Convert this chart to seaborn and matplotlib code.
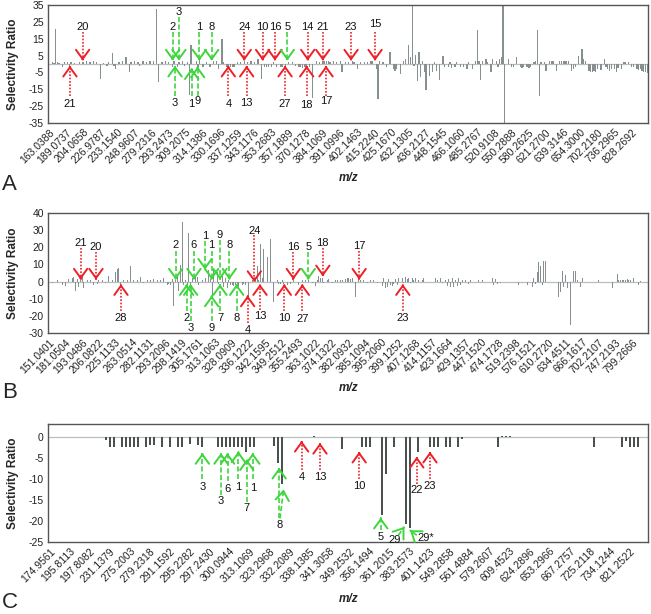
import numpy as np
import pandas as pd
import matplotlib
matplotlib.use('Agg')
import matplotlib.pyplot as plt
import seaborn as sns

sns.set_theme(style='white')
plt.rcParams['font.family'] = ['Liberation Sans', 'DejaVu Sans']

RED = '#ee2026'
GREEN = '#3dd63d'
BAR_AB = '#869090'
BAR_C = '#4b5151'

# ---- panel A ----
a_n = 350
a_labels = ['163.0388', '189.0737', '204.0658', '226.9787', '233.1540', '248.9607',
            '279.2316', '293.2473', '309.2075', '314.1386', '330.1696', '337.1259',
            '343.1176', '353.2683', '357.1889', '370.1278', '384.1069', '391.0996',
            '402.1463', '415.2240', '425.1670', '432.1305', '436.2127', '448.1545',
            '466.1060', '485.2767', '520.9108', '550.2888', '580.2625', '621.2700',
            '639.3146', '654.3000', '702.2180', '736.2965', '828.2692']
a_peaks = {0: -1.5, 2: 1.0, 3: 0.8, 4: 21.0, 5: 1.0, 6: 0.8, 8: -2.0, 9: 1.0, 11: 1.0,
           12: -1.5, 13: 1.0, 15: 0.8, 18: 1.0, 20: 1.2, 22: 1.5, 24: 1.0, 26: 1.8,
           28: 1.2, 30: -8.8, 32: 0.8, 34: -1.2, 35: 1.0, 37: 6.6, 38: -1.0, 39: -3.0,
           41: 1.0, 43: 1.5, 45: 4.0, 47: -4.9, 48: 1.0, 50: 2.0, 52: 1.0, 53: -1.0,
           55: 1.5, 57: 1.2, 59: 2.0, 61: 1.5, 63: 32.7, 64: -10.8, 66: 1.0, 68: 1.5,
           70: 1.0, 72: -1.5, 73: 1.5, 75: -2.0, 76: 1.0, 78: 2.0, 79: -1.0, 81: 1.0,
           82: -18.5, 83: 11.5, 86: 1.5, 87: -1.5, 88: 2.5, 90: -2.0, 92: 1.0, 94: -1.5,
           96: 2.0, 98: 1.5, 99: -3.0, 101: 15.0, 102: 1.0, 104: -1.5, 105: -1.5,
           106: -1.5, 107: -1.5, 108: -1.5, 110: 1.0, 112: 1.0, 114: 1.5, 116: 1.0,
           118: 1.5, 120: 1.0, 122: 3.2, 124: -8.8, 126: -1.5, 127: -1.8, 128: -1.5,
           130: -2.0, 131: 1.0, 133: -1.5, 135: -2.0, 136: -1.5, 138: -1.5, 140: 1.0,
           142: 1.0, 144: -1.0, 146: -2.0, 147: -2.0, 148: -2.5, 149: -2.0, 150: -2.0,
           152: -1.5, 154: -20.0, 156: 2.0, 158: 1.0, 160: 1.5, 161: 1.5, 162: 1.8,
           163: 1.5, 164: 1.0, 166: 1.5, 168: 1.0, 170: 2.0, 171: -5.0, 173: 1.0,
           175: 1.0, 177: 1.5, 178: 1.0, 180: -3.0, 182: 1.0, 184: 1.0, 186: 1.0,
           188: 2.0, 189: 1.5, 191: -3.0, 192: -21.0, 193: 2.0, 195: 1.0, 197: -1.5,
           199: 7.0, 201: -3.0, 202: -4.0, 203: -3.0, 205: -6.2, 207: 1.5, 208: 3.0,
           210: 11.0, 211: 4.0, 212: 40.0, 213: -1.0, 214: 5.3, 215: -9.8, 216: 7.0,
           217: -8.0, 218: 2.0, 219: -5.0, 220: -15.3, 222: -6.9, 224: -5.0, 225: 1.0,
           226: -4.0, 228: -9.4, 230: 4.8, 231: -2.0, 233: -2.0, 234: 1.0, 235: -2.5,
           237: -2.0, 238: 1.0, 240: -1.5, 242: -2.0, 244: -3.0, 245: 1.0, 247: -3.0,
           249: 1.5, 250: 19.9, 251: 2.0, 252: -9.4, 253: 2.0, 255: 3.0, 256: 1.0,
           258: -4.9, 259: 3.0, 261: 1.5, 262: -1.5, 263: 3.0, 264: 4.0, 265: 40.0,
           266: -40.0, 268: 3.0, 270: -2.0, 271: -2.0, 273: 4.3, 275: -2.0, 276: -2.5,
           277: -2.0, 279: -2.0, 280: -2.5, 281: -2.0, 283: 1.0, 284: 1.5, 285: 19.9,
           286: -18.7, 287: 1.0, 289: 1.0, 290: -4.0, 292: 1.5, 293: 2.0, 294: 1.5,
           296: -4.0, 298: 2.0, 299: 1.5, 300: 2.0, 301: 2.0, 302: 2.0, 303: 1.5,
           305: -4.0, 306: -3.0, 307: -2.0, 309: 4.8, 311: 9.0, 312: 3.0, 313: 2.0,
           315: -4.0, 316: -4.5, 317: -5.0, 318: -4.0, 319: -4.5, 320: -3.0, 322: -3.5,
           324: 3.0, 325: -2.0, 326: -3.0, 327: -4.0, 328: -3.0, 330: -3.0, 331: -5.0,
           332: -2.5, 334: -3.0, 335: 1.0, 336: 1.0, 338: 1.0, 340: -2.0, 341: -2.0,
           343: -3.0, 344: -3.5, 345: -3.0, 346: -4.0, 347: -4.5, 348: -5.0, 349: -5.5}
# label, x, tail, tip, label y, colour
a_arrows = [('20', 19.7, 19.0, 2.0, 22.0, 'r'), ('2', 72.2, 19.0, 2.0, 22.2, 'g'),
            ('3', 75.9, 28.0, 2.0, 30.7, 'g'), ('1', 87.8, 19.0, 2.0, 22.2, 'g'),
            ('8', 95.0, 19.0, 2.0, 22.2, 'g'), ('24', 114.0, 19.0, 2.0, 22.2, 'r'),
            ('10', 124.7, 19.0, 2.0, 22.2, 'r'), ('16', 131.9, 19.0, 2.0, 22.0, 'r'),
            ('5', 139.1, 19.0, 2.0, 22.2, 'g'), ('14', 151.0, 19.0, 2.0, 22.2, 'r'),
            ('21', 159.8, 19.0, 2.0, 22.2, 'r'), ('23', 176.3, 19.0, 2.0, 22.2, 'r'),
            ('15', 190.3, 19.0, 2.0, 23.5, 'r'),
            ('21', 12.3, -18.7, -1.0, -24.0, 'r'), ('3', 73.6, -18.7, -1.0, -23.2, 'g'),
            ('1', 83.3, -18.7, -2.5, -24.0, 'g'), ('9', 86.8, -18.7, -1.5, -22.0, 'g'),
            ('4', 104.7, -18.7, -1.0, -23.5, 'r'), ('13', 115.4, -18.7, -1.0, -23.2, 'r'),
            ('27', 137.8, -18.7, -1.0, -24.0, 'r'), ('18', 150.4, -18.7, -1.0, -24.5, 'r'),
            ('17', 161.7, -18.7, -1.0, -22.0, 'r')]

# ---- panel B ----
b_n = 360
b_labels = ['151.0401', '181.0504', '193.0486', '206.0822', '225.1133', '263.0514',
            '282.1131', '293.2096', '298.1419', '305.1761', '313.1063', '328.0909',
            '336.1222', '342.1595', '349.2512', '355.2493', '363.1022', '374.1322',
            '382.0932', '385.1094', '395.2060', '399.1252', '407.1268', '414.1157',
            '423.1664', '429.1357', '447.1520', '474.1728', '519.2398', '576.1521',
            '610.2720', '634.4511', '666.1617', '702.2107', '747.2193', '799.2666']
b_peaks = {2: -1.0, 5: 1.0, 8: -2.0, 10: -2.5, 12: 1.5, 14: 2.0, 15: 2.6, 16: -5.6,
           17: 1.5, 18: -3.0, 19: 1.0, 20: 3.9, 21: -3.5, 23: 1.0, 25: 0.8, 27: -2.0,
           29: -1.5, 30: 1.0, 32: 1.0, 34: -1.0, 36: 3.0, 38: 1.0, 40: 5.5, 41: 7.2,
           42: 7.8, 43: -2.0, 45: 1.0, 47: 1.0, 49: 8.8, 51: 0.8, 53: 1.0, 55: 2.5,
           57: -1.0, 59: 1.0, 61: 0.8, 63: 1.5, 65: 1.0, 67: 1.0, 69: 2.0, 71: -2.0,
           72: -1.5, 73: -2.0, 74: 1.5, 75: -14.5, 76: 1.0, 77: 3.0, 78: -5.5, 79: 9.6,
           80: 34.5, 81: -2.0, 82: 1.0, 83: -2.0, 84: 28.3, 85: -4.0, 86: 2.0, 88: 3.5,
           89: 2.9, 90: -2.0, 92: 1.0, 94: 2.0, 96: 7.0, 97: 1.5, 98: -8.3, 99: 6.8,
           101: 5.8, 102: -1.5, 104: 3.0, 105: -3.0, 106: 2.0, 107: -4.0, 108: 1.0,
           109: -2.0, 110: -2.0, 111: -2.5, 112: -2.0, 113: -2.0, 114: -3.0, 116: -2.0,
           117: -1.5, 118: -2.0, 120: -8.0, 122: 1.0, 124: 2.0, 125: 8.8, 126: 1.0,
           127: 21.9, 128: 2.0, 129: 19.2, 131: 14.1, 133: 25.0, 135: -12.0, 137: 1.0,
           138: -1.5, 139: -1.5, 140: 1.0, 141: -1.5, 143: -2.0, 145: -1.5, 147: 1.0,
           150: -2.0, 152: 1.0, 154: 1.0, 156: 0.8, 158: -1.0, 160: -2.5, 161: 1.0,
           162: 3.0, 163: 2.0, 164: 2.0, 165: -1.0, 167: 1.0, 168: 1.5, 170: -1.0,
           172: 1.0, 173: 1.0, 175: 1.0, 176: 0.8, 178: 1.5, 179: 2.0, 180: 2.0,
           181: 1.5, 182: 2.0, 184: -9.2, 186: 2.0, 187: 1.0, 189: 1.0, 191: -1.0,
           193: 1.0, 195: 1.0, 197: -1.0, 200: -2.5, 201: 2.0, 202: -3.5, 203: -3.0,
           204: 1.5, 205: -2.0, 206: -2.5, 207: -1.5, 208: 1.5, 209: -2.0, 210: 2.0,
           212: 2.0, 213: -1.0, 214: 2.5, 215: 1.5, 216: 2.0, 217: -1.0, 218: 2.0,
           219: 1.0, 220: 2.0, 222: 1.0, 224: 1.0, 225: 2.0, 232: 2.0, 233: 1.0,
           235: 2.0, 236: -1.0, 238: 1.0, 239: -2.5, 240: 1.5, 241: -3.0, 242: 2.0,
           243: -3.0, 244: 1.0, 245: -2.5, 246: 2.0, 247: -2.0, 248: 1.0, 250: 1.0,
           252: -1.5, 253: 1.0, 258: 1.0, 260: 1.0, 266: 2.0, 267: -2.0, 268: 1.5,
           269: -1.5, 271: -1.0, 282: -2.0, 287: -2.0, 290: -3.0, 291: 2.0, 292: -1.5,
           293: 5.8, 294: 11.4, 295: 8.8, 296: -2.0, 297: 12.2, 298: 12.2, 306: -9.2,
           307: -6.0, 308: 6.2, 309: -3.0, 310: 4.0, 311: -4.0, 313: -25.6, 315: 6.2,
           316: 6.2, 317: 1.0, 319: -3.0, 320: 2.0, 330: 0.8, 338: -3.5, 341: 4.3,
           342: 1.0, 343: 1.0, 344: 0.8, 345: 1.0, 346: 1.0, 347: 1.5, 348: 1.0,
           349: 1.0, 351: 2.0, 354: -2.0, 355: 0.5}
b_arrows = [('21', 19.1, 19.5, 1.1, 22.5, 'r'), ('20', 28.3, 17.0, 1.1, 19.9, 'r'),
            ('2', 76.1, 18.0, 1.1, 21.1, 'g'), ('6', 87.1, 18.0, 1.1, 21.1, 'g'),
            ('1', 93.7, 23.5, 6.9, 26.3, 'g'), ('1', 97.7, 18.0, 1.1, 21.1, 'g'),
            ('9', 102.7, 24.0, 1.1, 26.9, 'g'), ('8', 108.3, 18.0, 1.1, 21.1, 'g'),
            ('24', 123.3, 27.0, -0.3, 29.6, 'r'), ('16', 146.7, 17.0, 1.1, 19.9, 'r'),
            ('5', 155.7, 17.0, 1.1, 19.9, 'g'), ('18', 164.4, 19.5, 3.0, 22.5, 'r'),
            ('17', 186.2, 18.0, 1.1, 20.7, 'r'),
            ('28', 43.3, -17.4, -1.5, -21.3, 'r'), ('2', 82.7, -17.4, -1.5, -21.3, 'g'),
            ('3', 85.1, -23.0, -1.5, -27.2, 'g'), ('9', 97.7, -23.0, -8.1, -27.2, 'g'),
            ('7', 102.7, -17.4, -1.5, -21.3, 'g'), ('8', 112.7, -17.4, -1.5, -21.3, 'g'),
            ('4', 119.3, -24.0, -8.1, -28.1, 'r'), ('13', 126.7, -16.5, -1.5, -20.3, 'r'),
            ('10', 141.3, -17.4, -1.5, -21.3, 'r'), ('27', 152.1, -17.4, -1.5, -21.9, 'r'),
            ('23', 212.4, -17.4, -1.5, -21.3, 'r')]

# ---- panel C ----
c_n = 150
c_labels = ['174.9561', '195.8113', '197.8082', '231.1379', '275.2003', '279.2318',
            '291.1592', '295.2282', '297.2430', '300.0944', '313.1069', '323.2968',
            '332.2089', '338.1385', '341.3058', '349.2532', '356.1494', '361.2015',
            '383.2573', '401.1423', '549.2858', '561.4884', '579.2607', '609.4523',
            '624.2896', '653.2966', '667.2757', '725.2118', '734.1244', '821.2522']
c_peaks = {1: 0.1, 2: 0.1, 9: 0.1, 10: 0.1, 11: 0.1, 14: -0.8, 15: -2.4, 16: -2.4,
           18: -2.4, 19: -2.4, 20: -2.4, 21: -2.4, 22: -2.4, 24: -2.4, 25: -1.9,
           26: -1.9, 28: -2.4, 30: -2.4, 32: -2.4, 33: -2.4, 35: -1.6, 37: -1.8,
           38: -2.5, 42: -2.4, 43: -2.4, 44: -2.4, 45: -2.4, 46: -2.4, 47: -2.4,
           48: -2.4, 49: -3.6, 50: -2.4, 51: -2.4, 52: 0.1, 53: 0.1, 54: 0.1,
           56: -2.2, 57: -6.3, 58: -11.1, 59: 0.1, 60: 0.1, 61: 0.1, 66: 0.3,
           73: -2.9, 78: -2.5, 79: -2.5, 80: -2.5, 83: -18.6, 84: -8.8, 86: -2.5,
           87: 0.1, 89: -20.7, 90: -21.7, 92: -3.5, 95: -2.5, 96: -2.5, 97: -2.5,
           99: -2.5, 100: -2.5, 102: -2.5, 103: -0.4, 104: 0.1, 105: 0.1, 112: -2.5,
           113: 0.3, 114: 0.3, 115: 0.3, 121: 0.1, 122: 0.1, 123: 0.1, 124: 0.1,
           125: 0.1, 126: 0.1, 127: 0.1, 128: 0.1, 136: -2.5, 137: 0.1, 138: 0.1,
           139: 0.1, 143: -2.5, 144: -0.9, 145: -2.5, 146: -2.5, 147: -2.5}
# label, x tail, y tail, x tip, y tip, x label, y label, colour
c_arrows = [('3', 38.1, -9.9, 38.1, -3.8, 38.1, -11.9, 'g'),
            ('3', 42.75, -13.9, 42.75, -3.8, 42.75, -15.3, 'g'),
            ('6', 44.4, -10.5, 44.4, -3.8, 44.4, -12.3, 'g'),
            ('1', 47.1, -9.9, 47.1, -3.4, 47.1, -11.9, 'g'),
            ('7', 49.2, -15.4, 49.2, -5.3, 49.2, -17.0, 'g'),
            ('1', 50.7, -10.0, 50.7, -3.8, 50.7, -12.1, 'g'),
            ('8', 57.3, -19.4, 57.3, -7.3, 57.3, -21.0, 'g'),
            ('', 57.5, -19.4, 58.4, -12.5, 0, 0, 'g'),
            ('4', 62.9, -7.9, 62.9, -0.9, 62.9, -9.5, 'r'),
            ('13', 67.5, -7.9, 67.5, -1.4, 67.5, -9.5, 'r'),
            ('10', 77.3, -10.1, 77.3, -3.5, 77.3, -11.7, 'r'),
            ('5', 82.7, -22.2, 82.7, -19.2, 82.7, -23.9, 'g'),
            ('29', 87.1, -23.4, 88.6, -21.4, 86.1, -24.6, 'g'),
            ('29*', 91.7, -23.4, 90.0, -22.2, 93.9, -24.0, 'g'),
            ('22', 91.7, -11.1, 91.7, -4.7, 91.7, -12.7, 'r'),
            ('23', 95.0, -10.1, 95.0, -3.5, 95.0, -11.7, 'r')]


def series(n, peaks):
    vals = np.zeros(n)
    for i, v in peaks.items():
        vals[i] = v
    return pd.DataFrame({'pos': np.arange(n), 'ratio': vals})


def draw_arrow(ax, x0, y0, x1, y1, col):
    color = RED if col == 'r' else GREEN
    ls = (0, (1, 1)) if col == 'r' else (0, (3, 1.5))
    ax.plot([x0, x1], [y0, y1], color=color, lw=1.2, ls=ls, zorder=5)
    f = 0.08
    ax.annotate('', xy=(x1, y1), xytext=(x1 - (x1 - x0) * f, y1 - (y1 - y0) * f),
                arrowprops=dict(arrowstyle='->,head_length=0.55,head_width=0.4',
                                color=color, lw=1.4, shrinkA=0, shrinkB=0),
                zorder=6)


def panel(ax, n, peaks, labels, step, ylim, yticks, color, width):
    df = series(n, peaks)
    ax.axhline(0, color='#b9bebe', lw=0.9, zorder=0)
    sns.barplot(data=df, x='pos', y='ratio', color=color, width=width,
                errorbar=None, saturation=1, linewidth=0, ax=ax)
    ax.set_xlim(-0.5, n - 0.5)
    ax.set_ylim(*ylim)
    ax.set_yticks(yticks)
    ax.set_yticklabels([str(t) for t in yticks], fontsize=7.5)
    ax.set_xticks(np.arange(len(labels)) * step)
    ax.set_xticklabels(labels, rotation=45, ha='right', rotation_mode='anchor',
                       fontsize=7.5)
    ax.tick_params(axis='both', length=0, pad=3, colors='#222222')
    ax.set_xlabel('')
    ax.set_ylabel('')
    for s in ax.spines.values():
        s.set_color('#555555')
        s.set_linewidth(1.0)


fig = plt.figure(figsize=(6.51, 6.14), dpi=100)
ax_a = fig.add_axes([0.0737, 0.7997, 0.9217, 0.1922])
ax_b = fig.add_axes([0.0737, 0.4577, 0.9217, 0.1954])
ax_c = fig.add_axes([0.0737, 0.1173, 0.9217, 0.1922])

panel(ax_a, a_n, a_peaks, a_labels, 10, (-35, 35), list(range(-35, 36, 10)), BAR_AB, 0.75)
panel(ax_b, b_n, b_peaks, b_labels, 10, (-30, 40), list(range(-30, 41, 10)), BAR_AB, 0.75)
panel(ax_c, c_n, c_peaks, c_labels, 5, (-25, 3.1), list(range(-25, 1, 5)), BAR_C, 0.7)

for ax, arrows in [(ax_a, a_arrows), (ax_b, b_arrows)]:
    for txt, x, tail, tip, ly, col in arrows:
        draw_arrow(ax, x, tail, x, tip, col)
        ax.text(x, ly, txt, ha='center', va='center', fontsize=8, color='#111111', zorder=7)

for txt, x0, y0, x1, y1, lx, ly, col in c_arrows:
    draw_arrow(ax_c, x0, y0, x1, y1, col)
    if txt:
        ax_c.text(lx, ly, txt, ha='center', va='center', fontsize=8, color='#111111', zorder=7)

for yc in [0.896, 0.555, 0.213]:
    fig.text(0.02, yc, 'Selectivity Ratio', rotation=90, ha='center', va='center',
             fontsize=8.5, fontweight='bold')
for yc in [0.71, 0.368, 0.0245]:
    fig.text(0.535, yc, 'm/z', ha='center', va='center', fontsize=8.5,
             fontweight='bold', style='italic')
for yc, lab in [(0.70, 'A'), (0.36, 'B'), (0.018, 'C')]:
    fig.text(0.003, yc, lab, ha='left', va='center', fontsize=16)

fig.savefig('out.png', dpi=100)
